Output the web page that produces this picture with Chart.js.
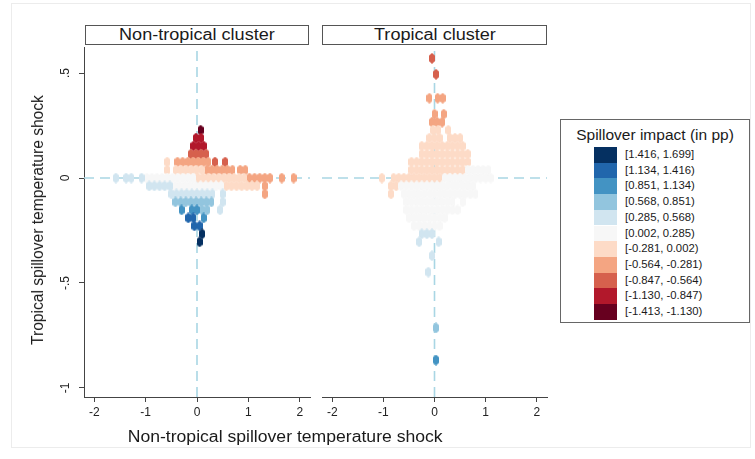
<!DOCTYPE html>
<html>
<head>
<meta charset="utf-8">
<script src="https://cdn.jsdelivr.net/npm/chart.js@4.4.0/dist/chart.umd.min.js"></script>
<style>
  body { margin: 0; background: #fff; }
  #wrap { position: relative; width: 755px; height: 459px; overflow: hidden;
          font-family: "Liberation Sans", Arial, sans-serif; color: #1a1a1a; }
  .frame { position: absolute; left: 11px; top: 3px; width: 740px; height: 445px;
           border: 1px solid #ececec; box-sizing: border-box; }
  canvas { position: absolute; top: 0; }
  .ptitle { position: absolute; top: 25px; height: 20px; border: 1px solid #555;
            box-sizing: border-box; background: #fff; text-align: center;
            font-size: 16px; line-height: 18px; white-space: nowrap; }
  .ptitle span { display: inline-block; transform: scaleX(1.13); }
  #xtitle { position: absolute; left: 85px; width: 400px; top: 428px; text-align: center;
            font-size: 16px; line-height: 18px; white-space: nowrap; }
  #xtitle span { display: inline-block; transform: scaleX(1.1); }
  #ytitle { position: absolute; left: 38px; top: 220px; font-size: 15.6px; line-height: 18px;
            white-space: nowrap; transform: translate(-50%, -50%) rotate(-90deg); }
  #legend { position: absolute; left: 560px; top: 119px; width: 190px; height: 204px;
            border: 1px solid #666; box-sizing: border-box; background: #fff; }
  #legend .lt { position: absolute; left: 0; width: 100%; top: 6px; text-align: center;
                font-size: 15.5px; white-space: nowrap; }
  #legend .sw { position: absolute; left: 33px; width: 23px; }
  #legend .lb { position: absolute; left: 64px; font-size: 11.3px; white-space: nowrap; }
</style>
</head>
<body>
<div id="wrap">
  <div class="frame"></div>
  <canvas id="leftChart" width="320" height="459" style="left:0px"></canvas>
  <canvas id="rightChart" width="245" height="459" style="left:312px"></canvas>
  <div class="ptitle" style="left:85px;width:224px"><span>Non-tropical cluster</span></div>
  <div class="ptitle" style="left:322px;width:225px"><span>Tropical cluster</span></div>
  <div id="ytitle">Tropical spillover temperature shock</div>
  <div id="xtitle"><span>Non-tropical spillover temperature shock</span></div>
  <div id="legend"><div class="lt">Spillover impact (in pp)</div></div>
</div>
<script>
// legend classes (top to bottom)
const classLabels = ['[1.416, 1.699]', '[1.134, 1.416)', '[0.851, 1.134)', '[0.568, 0.851)',
    '[0.285, 0.568)', '[0.002, 0.285)', '[-0.281, 0.002)', '[-0.564, -0.281)',
    '[-0.847, -0.564)', '[-1.130, -0.847)', '[-1.413, -1.130)'];
const classColors = ['#053061', '#2166ac', '#4393c3', '#92c5de', '#d1e5f0', '#f7f7f7',
    '#fddbc7', '#f4a582', '#d6604d', '#b2182b', '#67001f'];

const xTickValues = [-2, -1, 0, 1, 2];
const xTickLabels = ['-2', '-1', '0', '1', '2'];
const yTickValues = [-1, -0.5, 0, 0.5];
const yTickLabels = ['-1', '-.5', '0', '.5'];

// hex cells, one run per row: [y, first x, last x, class], cells every 0.1 in x
const nonTropCells = [
    [0.228, 0.07, 0.07, 10],
    [0.19, -0.02, 0.08, 9],
    [0.152, -0.07, 0.13, 9],
    [0.114, -0.12, 0.18, 8],
    [0.076, -0.58, -0.58, 6],
    [0.076, -0.38, 0.22, 7],
    [0.076, 0.35, 0.35, 8],
    [0.076, 0.55, 0.55, 8],
    [0.038, -0.58, -0.58, 6],
    [0.038, -0.41, 0.09, 6],
    [0.038, 0.19, 0.69, 7],
    [0.038, 0.84, 0.94, 7],
    [0, -1.58, -1.58, 4],
    [0, -1.38, -1.28, 4],
    [0, -1.08, -1.08, 4],
    [0, -0.98, -0.08, 5],
    [0, 0.02, 0.92, 6],
    [0, 1.02, 1.42, 7],
    [0, 1.65, 1.65, 7],
    [0, 1.88, 1.88, 7],
    [-0.038, -0.93, -0.53, 4],
    [-0.038, -0.43, 0.47, 5],
    [-0.038, 0.57, 1.17, 6],
    [-0.038, 1.32, 1.32, 7],
    [-0.076, -0.5, 0.3, 4],
    [-0.076, 0.5, 0.5, 4],
    [-0.076, 1.32, 1.32, 7],
    [-0.114, -0.42, 0.28, 3],
    [-0.114, 0.5, 0.5, 4],
    [-0.152, -0.3, -0.3, 2],
    [-0.152, -0.1, 0.0, 2],
    [-0.152, 0.1, 0.2, 3],
    [-0.152, 0.45, 0.45, 4],
    [-0.19, -0.17, -0.07, 1],
    [-0.19, 0.13, 0.13, 2],
    [-0.228, -0.05, 0.05, 1],
    [-0.266, 0.1, 0.1, 0],
    [-0.304, 0.05, 0.05, 0]
];

const tropCells = [
    [0.57, -0.05, -0.05, 8],
    [0.494, 0.03, 0.03, 8],
    [0.38, -0.1, -0.1, 7],
    [0.38, 0.06, 0.16, 7],
    [0.304, 0.0, 0.0, 7],
    [0.304, 0.18, 0.18, 7],
    [0.266, -0.05, 0.15, 7],
    [0.228, -0.03, 0.07, 6],
    [0.228, 0.27, 0.27, 6],
    [0.19, -0.1, 0.1, 6],
    [0.19, 0.3, 0.5, 6],
    [0.152, -0.25, 0.55, 6],
    [0.114, -0.25, 0.65, 6],
    [0.076, -0.45, 0.65, 6],
    [0.038, -0.45, 0.55, 6],
    [0.038, 0.65, 1.05, 5],
    [0, -1.03, -1.03, 6],
    [0, -0.8, 0.1, 6],
    [0, 0.2, 1.1, 5],
    [-0.038, -0.85, -0.75, 6],
    [-0.038, -0.65, 0.75, 5],
    [-0.076, -0.85, -0.85, 6],
    [-0.076, -0.6, 0.8, 5],
    [-0.114, -0.55, 0.35, 5],
    [-0.114, 0.55, 0.55, 5],
    [-0.152, -0.55, 0.45, 5],
    [-0.19, -0.5, 0.2, 5],
    [-0.228, -0.4, 0.1, 5],
    [-0.266, -0.25, -0.05, 4],
    [-0.304, -0.3, -0.3, 4],
    [-0.304, 0.08, 0.08, 4],
    [-0.37, -0.05, -0.05, 4],
    [-0.448, -0.12, -0.12, 4],
    [-0.714, 0.03, 0.03, 3],
    [-0.867, 0.03, 0.03, 2]
];

const X_MIN = -2.2, X_MAX = 2.2, Y_MIN = -1.043, Y_MAX = 0.624;
const FONT = '"Liberation Sans", Arial, sans-serif';
const AXIS = '#444';
const ZERO = '#a9d6e4';

// little pointy-top hexagon used as point style
function hexImage(color) {
    const c = document.createElement('canvas');
    c.width = 6; c.height = 11;
    const g = c.getContext('2d');
    const w = 6, h = 11;
    g.fillStyle = color;
    g.beginPath();
    g.moveTo(w / 2, 0);
    g.lineTo(w, h * 0.25);
    g.lineTo(w, h * 0.75);
    g.lineTo(w / 2, h);
    g.lineTo(0, h * 0.75);
    g.lineTo(0, h * 0.25);
    g.closePath();
    g.fill();
    return c;
}
const hexes = classColors.map(hexImage);

function buildDatasets(cells) {
    const byClass = classColors.map(() => []);
    cells.forEach(([y, x0, x1, cls]) => {
        for (let x = x0; x <= x1 + 1e-9; x += 0.1) {
            byClass[cls].push({ x: Math.round(x * 1000) / 1000, y: y });
        }
    });
    const sets = byClass.map((pts, i) => ({
        label: classLabels[i],
        data: pts,
        pointStyle: hexes[i],
        pointRadius: 3,
        order: 0
    }));
    // dashed zero lines under the cells
    sets.push({ data: [{ x: X_MIN, y: 0 }, { x: X_MAX, y: 0 }], showLine: true, pointRadius: 0,
        borderColor: ZERO, borderWidth: 1.6, borderDash: [10, 6], order: 5 });
    sets.push({ data: [{ x: 0, y: Y_MIN }, { x: 0, y: Y_MAX }], showLine: true, pointRadius: 0,
        borderColor: ZERO, borderWidth: 1.6, borderDash: [10, 6], order: 5 });
    return sets;
}

// rotated y tick labels like the original
const yTickPlugin = {
    id: 'yTicksRot',
    afterDraw(chart) {
        const s = chart.scales.y;
        const ctx = chart.ctx;
        ctx.save();
        ctx.font = '12px ' + FONT;
        ctx.fillStyle = '#222';
        ctx.textAlign = 'center';
        ctx.textBaseline = 'middle';
        yTickValues.forEach((v, i) => {
            ctx.save();
            ctx.translate(s.right - 18, s.getPixelForValue(v));
            ctx.rotate(-Math.PI / 2);
            ctx.fillText(yTickLabels[i], 0, 0);
            ctx.restore();
        });
        ctx.restore();
    }
};

function makeChart(id, cells, showY) {
    return new Chart(document.getElementById(id), {
        type: 'scatter',
        data: { datasets: buildDatasets(cells) },
        options: {
            responsive: false,
            animation: false,
            layout: { padding: { top: 47, right: 10, left: showY ? 0 : 10, bottom: 0 } },
            plugins: { legend: { display: false }, tooltip: { enabled: false } },
            scales: {
                x: {
                    type: 'linear', min: X_MIN, max: X_MAX,
                    afterBuildTicks: s => { s.ticks = xTickValues.map(v => ({ value: v })); },
                    afterFit: s => { s.height = 62; },
                    ticks: { font: { size: 12, family: FONT }, color: '#222', padding: 3,
                        maxRotation: 0, autoSkip: false, callback: (v, i) => xTickLabels[i] },
                    grid: { drawOnChartArea: false, drawTicks: true, tickLength: 5, color: AXIS },
                    border: { color: AXIS, width: 1 }
                },
                y: {
                    type: 'linear', min: Y_MIN, max: Y_MAX, display: showY,
                    afterBuildTicks: s => { s.ticks = yTickValues.map(v => ({ value: v })); },
                    afterFit: s => { s.width = showY ? 84 : 0; },
                    ticks: { display: false },
                    grid: { drawOnChartArea: false, drawTicks: true, tickLength: 5, color: AXIS },
                    border: { color: AXIS, width: 1 }
                }
            }
        },
        plugins: showY ? [yTickPlugin] : []
    });
}

makeChart('leftChart', nonTropCells, true);
makeChart('rightChart', tropCells, false);

// legend boxes
const legend = document.getElementById('legend');
classLabels.forEach((lab, i) => {
    const top = 146 - 119 + i * 15.7;
    const sw = document.createElement('div');
    sw.className = 'sw';
    sw.style.top = top + 'px';
    sw.style.height = '15.7px';
    sw.style.background = classColors[i];
    legend.appendChild(sw);
    const lb = document.createElement('div');
    lb.className = 'lb';
    lb.style.top = (top + 1) + 'px';
    lb.textContent = lab;
    legend.appendChild(lb);
});
</script>
</body>
</html>
